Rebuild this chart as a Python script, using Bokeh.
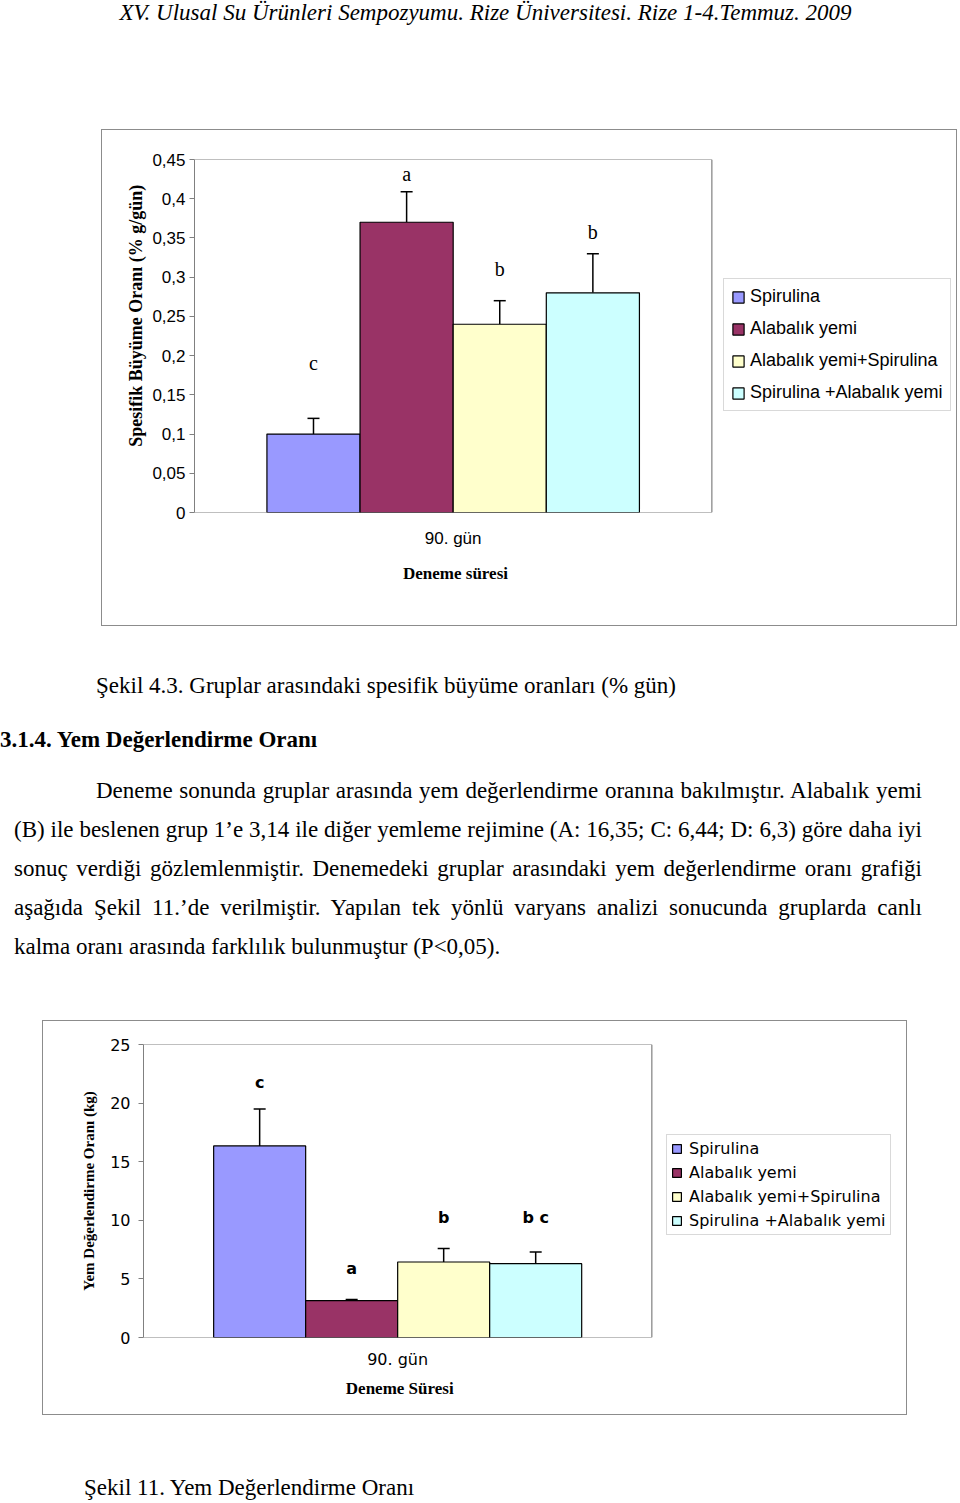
from bokeh.plotting import figure
from bokeh.models import (Range1d, FixedTicker, Legend, LegendItem,
                          Div, Spacer, ColumnDataSource)
from bokeh.layouts import column, row
from bokeh.core.properties import value
from bokeh.embed import file_html
from bokeh.resources import INLINE

# ---------------- data ----------------
groups = ["Spirulina", "Alabalık yemi", "Alabalık yemi+Spirulina", "Spirulina +Alabalık yemi"]
group_colors = ["#9999FF", "#993366", "#FFFFCC", "#CCFFFF"]
category = ["90. gün"]

# Chart 1: Spesifik büyüme oranı
sgr_values = [0.10, 0.37, 0.24, 0.28]
sgr_errors = [0.02, 0.039, 0.03, 0.05]
sgr_letters = ["c", "a", "b", "b"]
sgr_letter_y = [0.19, 0.432, 0.31, 0.357]
sgr_ticks = [0, 0.05, 0.1, 0.15, 0.2, 0.25, 0.3, 0.35, 0.4, 0.45]
sgr_tick_labels = ["0", "0,05", "0,1", "0,15", "0,2", "0,25", "0,3", "0,35", "0,4", "0,45"]

# Chart 2: Yem değerlendirme oranı
fcr_values = [16.35, 3.14, 6.44, 6.3]
fcr_errors = [3.15, 0.1, 1.15, 1.0]
fcr_letters = ["c", "a", "b", "b c"]
fcr_letter_y = [21.8, 5.9, 10.2, 10.2]
fcr_ticks = [0, 5, 10, 15, 20, 25]
fcr_tick_labels = ["0", "5", "10", "15", "20", "25"]

GREY = "#808080"
SERIF = "Liberation Serif"
NBSP = "\u00a0"


def make_chart(width, height, borders, plot_px, frame_px, ymax, ticks, tick_labels,
               values, errors, letters, letter_y, bar_w, ylabel, xlabel, sans,
               tick_size, label_font_size, letter_font, letter_size, letter_style,
               legend_loc, legend_style, axis_cfg):
    # the frame also holds the legend; the category band occupies plot_px of frame_px
    n_cat = len(category)
    cat_pos = [i + 0.5 for i in range(n_cat)]
    x_end = n_cat * frame_px / plot_px
    p = figure(width=width, height=height,
               x_range=Range1d(0, x_end), y_range=Range1d(0, ymax),
               output_backend="svg", toolbar_location=None,
               min_border_left=borders[0], min_border_right=borders[1],
               min_border_top=borders[2], min_border_bottom=borders[3],
               background_fill_color="white", border_fill_color="white")
    p.styles = {"border": "1px solid #8c8c8c"}
    p.xgrid.grid_line_color = None
    p.ygrid.grid_line_color = None
    p.outline_line_color = None

    # plot-area edges (category band only)
    edges = ColumnDataSource(dict(x0=[0, 0, n_cat], y0=[0, ymax, 0],
                                  x1=[n_cat, n_cat, n_cat], y1=[0, ymax, ymax]))
    p.segment(x0="x0", y0="y0", x1="x1", y1="y1", source=edges,
              line_color=GREY, line_width=1.2)

    items = []
    for i, name in enumerate(groups):
        off = (i - (len(groups) - 1) / 2) * bar_w
        src = ColumnDataSource(dict(x=[cat_pos[0] + off], val=[values[i]],
                                    hi=[values[i] + errors[i]],
                                    ly=[letter_y[i]], lab=[letters[i]]))
        p.segment(x0="x", y0="val", x1="x", y1="hi", source=src,
                  line_color="black", line_width=1.5)
        p.scatter(x="x", y="hi", marker="dash", size=12, source=src,
                  line_color="black", line_width=1.5)
        r = p.vbar(x="x", top="val", bottom=0, width=bar_w, source=src,
                   fill_color=group_colors[i], line_color="black", line_width=1.2)
        p.text(x="x", y="ly", text="lab", source=src, text_align="center",
               text_baseline="middle", text_font=value(letter_font),
               text_font_size=letter_size, text_font_style=letter_style,
               text_color="black")
        items.append(LegendItem(label=name, renderers=[r]))

    yax = p.yaxis[0]
    yax.ticker = FixedTicker(ticks=ticks)
    yax.major_label_overrides = dict(zip(ticks, tick_labels))
    yax.minor_tick_line_color = None
    yax.major_tick_out = 5
    yax.major_tick_in = 0
    yax.major_tick_line_color = GREY
    yax.axis_line_color = GREY
    yax.major_label_text_font = sans
    yax.major_label_text_font_size = tick_size
    yax.major_label_text_color = "black"
    yax.major_label_standoff = axis_cfg["y_std"]
    yax.axis_label = ylabel
    yax.axis_label_text_font = SERIF
    yax.axis_label_text_font_style = "bold"
    yax.axis_label_text_font_size = label_font_size
    yax.axis_label_text_color = "black"
    yax.axis_label_standoff = axis_cfg["y_lab_std"]

    xax = p.xaxis[0]
    xax.ticker = FixedTicker(ticks=cat_pos)
    xax.major_label_overrides = dict(zip(cat_pos, category))
    xax.minor_tick_line_color = None
    xax.major_tick_line_color = None
    xax.major_tick_out = 0
    xax.major_tick_in = 0
    xax.axis_line_color = None
    xax.major_label_text_font = sans
    xax.major_label_text_font_size = tick_size
    xax.major_label_text_color = "black"
    xax.major_label_standoff = axis_cfg["x_std"]
    xax.axis_label = xlabel + NBSP * axis_cfg["x_lab_pad"]
    xax.axis_label_text_font = SERIF
    xax.axis_label_text_font_style = "bold"
    xax.axis_label_text_font_size = axis_cfg["x_lab_size"]
    xax.axis_label_text_color = "black"
    xax.axis_label_standoff = axis_cfg["x_lab_std"]

    legend = Legend(items=items, location=legend_loc, **legend_style)
    legend.label_text_font = sans
    legend.label_text_color = "black"
    legend.border_line_color = "#b4b4b4"
    legend.border_line_width = 1
    legend.background_fill_color = "white"
    legend.background_fill_alpha = 1
    legend.margin = 0
    p.add_layout(legend)
    return p


# chart 1: box 856x497 (canvas 854x495), frame 758x351, category band 516 px
p1 = make_chart(
    856, 497, (92, 4, 29, 115), 516, 758, 0.45, sgr_ticks, sgr_tick_labels,
    sgr_values, sgr_errors, sgr_letters, sgr_letter_y, 0.18,
    NBSP * 9 + "Spesifik Büyüme Oranı (% g/gün)", "Deneme süresi",
    "Liberation Sans", "17px", "18px", SERIF, "20px", "normal",
    (529, 101),
    dict(label_text_font_size="18px", glyph_width=14, glyph_height=14,
         label_standoff=5, padding=7, spacing=11, label_height=20),
    dict(y_std=4, y_lab_std=3, x_std=16, x_lab_std=13, x_lab_size="17px", x_lab_pad=56))

# chart 2: box 865x395 (canvas 863x393), frame 757x291, category band 507 px
p2 = make_chart(
    865, 395, (100, 6, 23, 79), 507, 757, 25, fcr_ticks, fcr_tick_labels,
    fcr_values, fcr_errors, fcr_letters, fcr_letter_y, 0.181,
    "Yem Değerlendirme Oranı (kg)", "Deneme Süresi",
    "DejaVu Sans", "16px", "15px", "DejaVu Sans", "16px", "bold",
    (523, 102),
    dict(label_text_font_size="16px", glyph_width=11, glyph_height=11,
         label_standoff=7, padding=4, spacing=5, label_height=16),
    dict(y_std=8, y_lab_std=10, x_std=12, x_lab_std=7, x_lab_size="17px", x_lab_pad=58))


# ---------------- page texts ----------------
def tline(text, left, baseline, size, weight="normal", style="normal",
          width=None, justify=False, center=False):
    top = baseline - 0.8375 * size
    css = ("position:absolute;left:%dpx;top:%.1fpx;font-family:'Liberation Serif',serif;"
           "font-size:%dpx;line-height:%dpx;font-weight:%s;font-style:%s;"
           "white-space:nowrap;color:#000;" % (left, top, size, size, weight, style))
    if width:
        css += "width:%dpx;" % width
    if justify:
        css += "text-align:justify;text-align-last:justify;"
    if center:
        css += "text-align:center;"
    return '<div style="%s">%s</div>' % (css, text)


def block(h, inner):
    return Div(text='<div style="position:relative;width:960px;height:%dpx;">%s</div>' % (h, inner),
               width=960, height=h, margin=0)


FS = 23
header = block(129, tline("XV. Ulusal Su Ürünleri Sempozyumu. Rize Üniversitesi. Rize 1-4.Temmuz. 2009",
                          0, 20.7, 23, style="italic", width=971, center=True))

para = [
    "Deneme sonunda gruplar arasında yem değerlendirme oranına bakılmıştır. Alabalık yemi",
    "(B) ile beslenen grup 1’e 3,14 ile diğer yemleme rejimine (A: 16,35; C: 6,44; D: 6,3) göre daha iyi",
    "sonuç verdiği gözlemlenmiştir. Denemedeki gruplar arasındaki yem değerlendirme oranı grafiği",
    "aşağıda Şekil 11.’de verilmiştir. Yapılan tek yönlü varyans analizi sonucunda gruplarda canlı",
    "kalma oranı arasında farklılık bulunmuştur (P&lt;0,05).",
]
mid_inner = (
    tline("Şekil 4.3. Gruplar arasındaki spesifik büyüme oranları (% gün)", 96, 67, FS)
    + tline("3.1.4. Yem Değerlendirme Oranı", 0, 121, FS, weight="bold")
    + tline(para[0], 96, 172, FS, width=826, justify=True)
    + tline(para[1], 14, 211, FS, width=908, justify=True)
    + tline(para[2], 14, 250, FS, width=908, justify=True)
    + tline(para[3], 14, 289, FS, width=908, justify=True)
    + tline(para[4], 14, 328, FS)
)
middle = block(394, mid_inner)
bottom = block(88, tline("Şekil 11. Yem Değerlendirme Oranı", 84, 80, FS))

layout = column(
    header,
    row(Spacer(width=101, height=497, margin=0), p1, spacing=0),
    middle,
    row(Spacer(width=42, height=395, margin=0), p2, spacing=0),
    bottom,
    spacing=0,
)

open("out.html", "w").write(file_html(layout, INLINE))
